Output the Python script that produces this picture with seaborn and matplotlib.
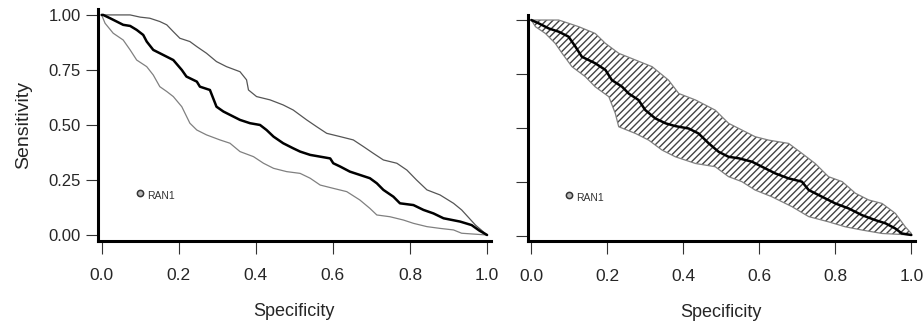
import matplotlib
matplotlib.use("Agg")
import matplotlib.pyplot as plt
import seaborn as sns
import pandas as pd

sns.set_style("ticks")
plt.rcParams["font.family"] = ["Liberation Sans", "DejaVu Sans"]

# left panel: ROC curve with lower / upper confidence curves
l_mid_x = [0.0, 0.004, 0.022, 0.039, 0.056, 0.074, 0.091, 0.108, 0.117, 0.134, 0.151, 0.186,
           0.208, 0.22, 0.247, 0.255, 0.281, 0.298, 0.316, 0.342, 0.359, 0.385, 0.411, 0.428,
           0.446, 0.471, 0.497, 0.515, 0.541, 0.567, 0.593, 0.601, 0.619, 0.644, 0.67, 0.696,
           0.714, 0.731, 0.757, 0.774, 0.809, 0.835, 0.861, 0.887, 0.93, 0.96, 0.98, 1.0]
l_mid_y = [1.0, 1.0, 0.985, 0.97, 0.955, 0.95, 0.932, 0.909, 0.879, 0.841, 0.826, 0.795,
           0.75, 0.72, 0.697, 0.674, 0.659, 0.583, 0.561, 0.538, 0.523, 0.508, 0.5, 0.477,
           0.447, 0.417, 0.394, 0.379, 0.364, 0.356, 0.348, 0.326, 0.311, 0.288, 0.273, 0.258,
           0.235, 0.205, 0.174, 0.144, 0.136, 0.114, 0.098, 0.076, 0.061, 0.045, 0.02, 0.0]
l_up_x = [0.0, 0.074, 0.1, 0.125, 0.151, 0.169, 0.186, 0.203, 0.229, 0.247, 0.272, 0.298,
          0.324, 0.359, 0.376, 0.381, 0.402, 0.437, 0.471, 0.497, 0.532, 0.558, 0.584, 0.619,
          0.653, 0.679, 0.705, 0.731, 0.766, 0.792, 0.817, 0.844, 0.878, 0.913, 0.934, 0.97, 1.0]
l_up_y = [1.0, 1.0, 0.99, 0.985, 0.97, 0.955, 0.924, 0.894, 0.879, 0.856, 0.826, 0.788,
          0.765, 0.742, 0.705, 0.659, 0.629, 0.614, 0.591, 0.568, 0.523, 0.492, 0.462, 0.447,
          0.432, 0.402, 0.371, 0.341, 0.326, 0.295, 0.25, 0.205, 0.182, 0.144, 0.114, 0.045, 0.0]
l_lo_x = [0.0, 0.009, 0.03, 0.056, 0.074, 0.091, 0.117, 0.134, 0.151, 0.169, 0.186, 0.208,
          0.229, 0.247, 0.272, 0.307, 0.333, 0.359, 0.394, 0.42, 0.446, 0.48, 0.515, 0.541,
          0.567, 0.601, 0.636, 0.67, 0.696, 0.714, 0.748, 0.783, 0.809, 0.844, 0.878, 0.913,
          0.934, 1.0]
l_lo_y = [1.0, 0.962, 0.917, 0.886, 0.841, 0.795, 0.765, 0.727, 0.674, 0.652, 0.629, 0.583,
          0.508, 0.477, 0.455, 0.432, 0.417, 0.379, 0.356, 0.326, 0.303, 0.288, 0.28, 0.258,
          0.227, 0.212, 0.197, 0.159, 0.121, 0.091, 0.083, 0.068, 0.053, 0.038, 0.03, 0.023,
          0.008, 0.0]

# right panel: ROC curve with hatched confidence band
r_mid_x = [0.0, 0.019, 0.046, 0.072, 0.098, 0.116, 0.133, 0.168, 0.195, 0.212, 0.239, 0.256,
           0.282, 0.3, 0.326, 0.353, 0.379, 0.414, 0.44, 0.467, 0.493, 0.519, 0.546, 0.581,
           0.607, 0.642, 0.677, 0.712, 0.73, 0.765, 0.8, 0.835, 0.87, 0.905, 0.932, 0.958,
           0.975, 1.0]
r_mid_y = [1.0, 0.985, 0.961, 0.946, 0.923, 0.877, 0.83, 0.8, 0.769, 0.722, 0.691, 0.66,
           0.63, 0.583, 0.545, 0.522, 0.509, 0.498, 0.475, 0.429, 0.39, 0.367, 0.36, 0.344,
           0.321, 0.29, 0.267, 0.252, 0.213, 0.182, 0.151, 0.128, 0.097, 0.074, 0.059, 0.035,
           0.012, 0.005]
r_up_x = [0.0, 0.072, 0.098, 0.125, 0.168, 0.195, 0.23, 0.274, 0.318, 0.361, 0.388, 0.432,
          0.484, 0.519, 0.554, 0.589, 0.625, 0.677, 0.712, 0.747, 0.782, 0.818, 0.853, 0.888,
          0.923, 0.958, 0.984, 1.0]
r_up_y = [1.0, 1.0, 0.985, 0.969, 0.938, 0.892, 0.846, 0.815, 0.784, 0.722, 0.66, 0.63,
          0.583, 0.522, 0.491, 0.46, 0.444, 0.429, 0.383, 0.336, 0.275, 0.252, 0.198, 0.167,
          0.151, 0.105, 0.043, 0.012]
r_lo_x = [0.0, 0.011, 0.037, 0.063, 0.081, 0.107, 0.142, 0.168, 0.204, 0.221, 0.23, 0.274,
          0.309, 0.344, 0.379, 0.432, 0.484, 0.519, 0.554, 0.589, 0.633, 0.686, 0.73, 0.782,
          0.826, 0.87, 0.923, 1.0]
r_lo_y = [1.0, 0.969, 0.938, 0.892, 0.846, 0.784, 0.738, 0.691, 0.645, 0.568, 0.506, 0.475,
          0.444, 0.398, 0.367, 0.336, 0.321, 0.275, 0.252, 0.213, 0.182, 0.136, 0.09, 0.066,
          0.043, 0.028, 0.012, 0.005]

point_label = "RAN1"
point_x = 0.1
point_y = 0.19

x_ticks = [0.0, 0.2, 0.4, 0.6, 0.8, 1.0]
y_ticks = [0.0, 0.25, 0.5, 0.75, 1.0]

fig = plt.figure(figsize=(9.24, 3.25), dpi=100)
ax1 = fig.add_axes([0.1058, 0.260, 0.4255, 0.711])
ax2 = fig.add_axes([0.5709, 0.257, 0.4195, 0.698])


def style_axis(ax, show_ylabels):
    ax.set_xlim(-0.01, 1.01)
    ax.set_ylim(-0.025, 1.025)
    ax.set_xticks(x_ticks)
    ax.set_xticklabels([f"{t:.1f}" for t in x_ticks])
    ax.set_yticks(y_ticks)
    if show_ylabels:
        ax.set_yticklabels([f"{t:.2f}" for t in y_ticks])
        ax.set_ylabel("Sensitivity", fontsize=14, labelpad=12)
    else:
        ax.set_yticklabels([])
    ax.set_xlabel("Specificity", fontsize=13, labelpad=14)
    for s in ["top", "right"]:
        ax.spines[s].set_visible(False)
    for s in ["left", "bottom"]:
        ax.spines[s].set_linewidth(2.2)
        ax.spines[s].set_color("black")
    ax.tick_params(axis="x", direction="out", length=9, width=0.8, color="#333333",
                   pad=11, labelsize=12.5)
    ax.tick_params(axis="y", direction="out", length=9, width=0.8, color="#333333",
                   pad=3, labelsize=12)
    ax.plot([point_x], [point_y], marker="o", ms=4.5, mfc="#bbbbbb", mec="#333333",
            mew=1.1, ls="none")
    ax.text(point_x + 0.018, point_y - 0.012, point_label, fontsize=7.5,
            ha="left", va="center", color="#333333")


# left panel
sns.lineplot(x=l_up_x, y=l_up_y, ax=ax1, color="#555555", lw=0.9, sort=False, estimator=None)
sns.lineplot(x=l_lo_x, y=l_lo_y, ax=ax1, color="#808080", lw=0.9, sort=False, estimator=None)
sns.lineplot(x=l_mid_x, y=l_mid_y, ax=ax1, color="black", lw=1.8, sort=False, estimator=None)
style_axis(ax1, True)

# right panel: build band on common grid from the two boundary curves
band = pd.DataFrame({"x": sorted(set(r_up_x) | set(r_lo_x))})
band["upper"] = pd.Series(r_up_y, index=r_up_x).reindex(band["x"]).interpolate(method="index").values
band["lower"] = pd.Series(r_lo_y, index=r_lo_x).reindex(band["x"]).interpolate(method="index").values
ax2.fill_between(band["x"], band["lower"], band["upper"], facecolor="white",
                 edgecolor="#444444", hatch="/////", linewidth=0)
sns.lineplot(x=r_up_x, y=r_up_y, ax=ax2, color="#808080", lw=0.9, sort=False, estimator=None)
sns.lineplot(x=r_lo_x, y=r_lo_y, ax=ax2, color="#808080", lw=0.9, sort=False, estimator=None)
sns.lineplot(x=r_mid_x, y=r_mid_y, ax=ax2, color="black", lw=1.8, sort=False, estimator=None)
style_axis(ax2, False)

fig.savefig("out.png", dpi=100)
plt.close(fig)
